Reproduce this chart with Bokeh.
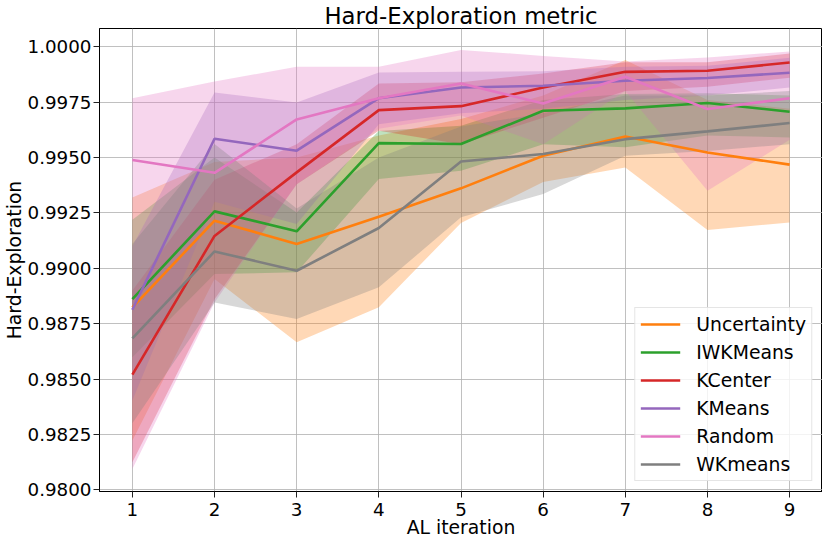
from bokeh.plotting import figure
from bokeh.models import ColumnDataSource, FixedTicker, PrintfTickFormatter, Range1d, Legend, LegendItem
from bokeh.embed import file_html
from bokeh.resources import INLINE

iterations = [1, 2, 3, 4, 5, 6, 7, 8, 9]
y_ticks = [0.98, 0.9825, 0.985, 0.9875, 0.99, 0.9925, 0.995, 0.9975, 1.0]

names = ["Uncertainty", "IWKMeans", "KCenter", "KMeans", "Random", "WKmeans"]
colors = ["#ff7f0e", "#2ca02c", "#d62728", "#9467bd", "#e377c2", "#7f7f7f"]

unc_mean = [0.98824, 0.99215, 0.99110, 0.99233, 0.99361, 0.99508, 0.99595, 0.99523, 0.99468]
unc_low = [0.98222, 0.98952, 0.98666, 0.98824, 0.99205, 0.99390, 0.99455, 0.99173, 0.99207]
unc_up = [0.99320, 0.99480, 0.99500, 0.99600, 0.99674, 0.99780, 0.99940, 0.99760, 0.99720]

iwk_mean = [0.98861, 0.99257, 0.99167, 0.99565, 0.99561, 0.99711, 0.99722, 0.99746, 0.99707]
iwk_low = [0.98598, 0.98974, 0.98982, 0.99403, 0.99440, 0.99560, 0.99546, 0.99600, 0.99591]
iwk_up = [0.99219, 0.99500, 0.99252, 0.99620, 0.99644, 0.99760, 0.99787, 0.99790, 0.99780]

kc_mean = [0.98520, 0.99146, 0.99433, 0.99714, 0.99732, 0.99816, 0.99887, 0.99892, 0.99929]
kc_low = [0.98124, 0.98860, 0.99380, 0.99621, 0.99560, 0.99680, 0.99800, 0.99820, 0.99860]
kc_up = [0.98900, 0.99400, 0.99560, 0.99834, 0.99840, 0.99880, 0.99930, 0.99930, 0.99970]

km_mean = [0.98813, 0.99585, 0.99531, 0.99768, 0.99816, 0.99824, 0.99847, 0.99859, 0.99883]
km_low = [0.98403, 0.99300, 0.99200, 0.99650, 0.99700, 0.99720, 0.99760, 0.99780, 0.99816]
km_up = [0.99100, 0.99794, 0.99749, 0.99884, 0.99887, 0.99890, 0.99910, 0.99914, 0.99950]

rnd_mean = [0.99489, 0.99431, 0.99672, 0.99768, 0.99834, 0.99744, 0.99865, 0.99719, 0.99768]
rnd_low = [0.98094, 0.98846, 0.99380, 0.99630, 0.99690, 0.99560, 0.99800, 0.99350, 0.99580]
rnd_up = [0.99768, 0.99843, 0.99910, 0.99910, 0.99986, 0.99959, 0.99934, 0.99952, 0.99979]

wk_mean = [0.98684, 0.99076, 0.98989, 0.99182, 0.99482, 0.99516, 0.99583, 0.99618, 0.99656]
wk_low = [0.98300, 0.98846, 0.98771, 0.98914, 0.99230, 0.99335, 0.99508, 0.99530, 0.99560]
wk_up = [0.99110, 0.99561, 0.99270, 0.99500, 0.99640, 0.99700, 0.99780, 0.99780, 0.99800]

series = [
    (unc_mean, unc_low, unc_up),
    (iwk_mean, iwk_low, iwk_up),
    (kc_mean, kc_low, kc_up),
    (km_mean, km_low, km_up),
    (rnd_mean, rnd_low, rnd_up),
    (wk_mean, wk_low, wk_up),
]

FONT = "DejaVu Sans"

p = figure(frame_width=723, frame_height=463, output_backend="svg", toolbar_location=None,
           x_range=Range1d(0.6, 9.4), y_range=Range1d(0.979923, 1.000826),
           min_border_left=0, min_border_right=0, min_border_top=0, min_border_bottom=0,
           title="Hard-Exploration metric")

p.title.text_font = FONT
p.title.text_font_size = "22.8px"
p.title.text_font_style = "normal"
p.title.text_color = "black"
p.title.align = "center"
p.title.standoff = 0
p.title.offset = 0

p.outline_line_color = "black"
p.outline_line_width = 1
p.outline_line_alpha = 1

sources = [ColumnDataSource(dict(x=iterations, m=m, lo=lo, up=up)) for (m, lo, up) in series]

for col, src in zip(colors, sources):
    p.varea(x="x", y1="lo", y2="up", source=src, fill_color=col, fill_alpha=0.3)

items = []
for name, col, src in zip(names, colors, sources):
    r = p.line("x", "m", source=src, line_color=col, line_width=2.6)
    items.append(LegendItem(label=name, renderers=[r]))

legend = Legend(items=items, location="bottom_right")
legend.label_text_font = FONT
legend.label_text_font_size = "18.8px"
legend.label_text_color = "black"
legend.glyph_width = 40
legend.glyph_height = 22
legend.label_height = 22
legend.spacing = 6
legend.padding = 5
legend.margin = 10
legend.label_standoff = 16
legend.border_line_color = "#cccccc"
legend.border_line_width = 1
legend.background_fill_color = "white"
legend.background_fill_alpha = 0.8
p.add_layout(legend, "center")

p.xaxis.ticker = FixedTicker(ticks=iterations)
p.yaxis.ticker = FixedTicker(ticks=y_ticks)
p.yaxis.formatter = PrintfTickFormatter(format="%.4f")

for ax in (p.xaxis[0], p.yaxis[0]):
    ax.major_label_text_font = FONT
    ax.major_label_text_font_size = "18.3px"
    ax.axis_label_text_font = FONT
    ax.axis_label_text_font_size = "18.8px"
    ax.axis_label_text_font_style = "normal"
    ax.axis_label_text_color = "black"
    ax.major_tick_out = 6
    ax.major_tick_in = 0
    ax.minor_tick_out = 0
    ax.minor_tick_in = 0
    ax.axis_line_color = "black"
    ax.major_tick_line_color = "#222222"
    ax.major_label_text_color = "black"

p.xaxis.axis_label = "AL iteration"
p.yaxis.axis_label = "Hard-Exploration"
p.xaxis.major_label_standoff = 5
p.yaxis.major_label_standoff = 2
p.xaxis.axis_label_standoff = -2
p.yaxis.axis_label_standoff = 0

p.xgrid.grid_line_color = "#b0b0b0"
p.ygrid.grid_line_color = "#b0b0b0"
p.xgrid.grid_line_width = 1
p.ygrid.grid_line_width = 1
p.xgrid.grid_line_alpha = 0.8
p.ygrid.grid_line_alpha = 0.8

open("out.html", "w").write(file_html(p, INLINE))
